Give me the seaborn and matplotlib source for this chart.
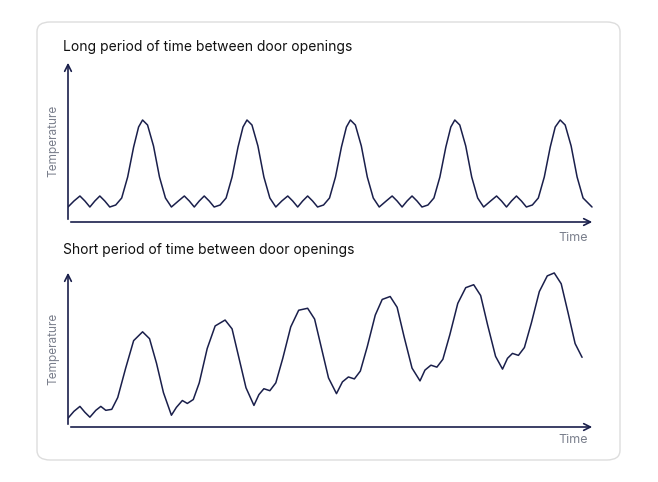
import matplotlib
matplotlib.use("Agg")
import matplotlib.pyplot as plt
from matplotlib.patches import FancyBboxPatch
import seaborn as sns
import pandas as pd

sns.set_theme(style="white")
plt.rcParams['font.family'] = ['Inter', 'DejaVu Sans']

# Long period between door openings: (time, temperature)
long_time = [0, 6, 12, 17, 22, 27, 32, 37, 42, 48, 54, 60, 66, 71, 75, 80, 86, 92, 98, 104,
             111, 117, 122, 127, 132, 137, 142, 147, 153, 159, 165, 171, 176, 180, 185, 191, 197, 203, 209,
             215, 221, 226, 231, 236, 241, 246, 251, 257, 263, 269, 275, 280, 284, 289, 295, 301, 307, 313,
             320, 326, 331, 336, 341, 346, 351, 356, 362, 368, 374, 380, 385, 389, 394, 400, 406, 412, 418,
             425, 431, 436, 441, 446, 451, 456, 461, 467, 473, 479, 485, 490, 495, 500, 506, 512, 518, 527]
long_temp = [15, 21, 26, 21, 15, 21, 26, 21, 15, 17, 24, 45, 75, 95, 102, 97, 76, 45, 24, 15,
             21, 26, 21, 15, 21, 26, 21, 15, 17, 24, 45, 75, 95, 102, 97, 76, 45, 24, 15,
             21, 26, 21, 15, 21, 26, 21, 15, 17, 24, 45, 75, 95, 102, 97, 76, 45, 24, 15,
             21, 26, 21, 15, 21, 26, 21, 15, 17, 24, 45, 75, 95, 102, 97, 76, 45, 24, 15,
             21, 26, 21, 15, 21, 26, 21, 15, 17, 24, 45, 75, 95, 102, 97, 76, 45, 24, 15]

# Short period between door openings
short_time = [0, 6, 12, 17, 22, 28, 33, 38, 44, 50, 58, 66, 75, 82, 89, 96,
              104, 109, 115, 120, 126, 132, 140, 148, 158, 165, 172, 179,
              187, 192, 197, 203, 209, 216, 224, 232, 241, 248, 255, 262,
              270, 276, 282, 288, 294, 301, 309, 316, 324, 331, 338, 346,
              354, 359, 365, 371, 377, 384, 392, 400, 408, 415, 422, 430,
              437, 442, 447, 453, 459, 466, 474, 482, 489, 496, 503, 510, 517]
short_temp = [9, 16, 21, 15, 10, 17, 21, 17, 18, 30, 60, 88, 97, 90, 65, 35,
              12, 20, 27, 24, 28, 45, 80, 103, 109, 100, 70, 40,
              22, 33, 39, 37, 45, 70, 102, 119, 121, 110, 80, 50,
              34, 46, 51, 49, 57, 82, 114, 130, 133, 122, 92, 60,
              47, 58, 63, 61, 69, 94, 126, 142, 145, 134, 104, 72,
              59, 70, 75, 73, 81, 106, 138, 154, 157, 146, 116, 85, 71]

long_df = pd.DataFrame({"time": long_time, "temp": long_temp})
short_df = pd.DataFrame({"time": short_time, "temp": short_temp})

fig = plt.figure(figsize=(6.58, 4.82), dpi=100)
fig.patch.set_facecolor("white")

card = FancyBboxPatch((37 / 658, (482 - 460) / 482), 583 / 658, 438 / 482,
                      boxstyle="round,pad=0,rounding_size=0.02", transform=fig.transFigure,
                      facecolor="white", edgecolor="#dddddd", linewidth=1, zorder=-5)
fig.patches.append(card)

line_color = "#1a1f4b"
label_color = "#7a7f8c"

panels = [
    (long_df, (68 / 658, 260 / 482, 527 / 658, 162 / 482), 162,
     "Long period of time between door openings", 47, 238),
    (short_df, (68 / 658, 55 / 482, 527 / 658, 157 / 482), 160,
     "Short period of time between door openings", 250, 440),
]

for df, rect, ytop, title, title_y, time_y in panels:
    ax = fig.add_axes(rect, zorder=2)
    ax.set_facecolor("none")
    sns.lineplot(data=df, x="time", y="temp", ax=ax, color=line_color, linewidth=1.1)
    ax.set_xlim(0, 530)
    ax.set_ylim(0, ytop)
    for s in ax.spines.values():
        s.set_visible(False)
    ax.set_xticks([])
    ax.set_yticks([])
    ax.set_xlabel("")
    ax.set_ylabel("")
    arrow = dict(arrowstyle="->", color=line_color, lw=1.2)
    ax.annotate("", xy=(1, 0), xytext=(0, 0), xycoords="axes fraction", arrowprops=arrow)
    ax.annotate("", xy=(0, 1), xytext=(0, 0), xycoords="axes fraction", arrowprops=arrow)
    ax.text(-0.028, 0.5, "Temperature", transform=ax.transAxes, rotation=90,
            ha="center", va="center", fontsize=8.5, color=label_color)
    fig.text(63 / 658, 1 - title_y / 482, title, ha="left", va="center",
             fontsize=10, color="#111111")
    fig.text(588 / 658, 1 - time_y / 482, "Time", ha="right", va="center",
             fontsize=9, color=label_color)

fig.savefig("out.png", dpi=100)
